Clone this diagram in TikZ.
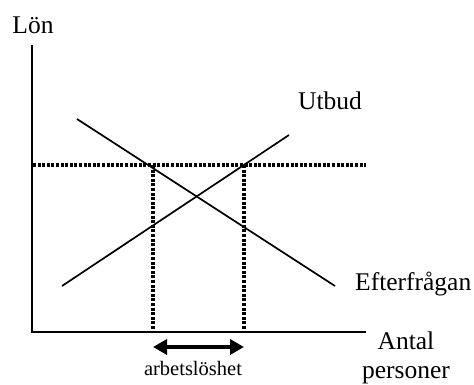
\documentclass[tikz,border=0pt]{standalone}
\usepackage{fontspec}
\setmainfont{Liberation Serif}
\usetikzlibrary{arrows.meta}
\begin{document}
\begin{tikzpicture}[x=1pt,y=-1pt,
  axis/.style={line width=1.8pt},
  curve/.style={line width=1.7pt},
  dots/.style={line width=3.2pt,dash pattern=on 3pt off 1.6pt},
  lbl/.style={inner sep=0pt,font=\fontsize{25.5}{28}\selectfont},
  small/.style={inner sep=0pt,font=\fontsize{20.5}{23}\selectfont}]
\useasboundingbox (0,0) rectangle (474,385);
% axes
\coordinate (O) at (32,332);
\coordinate (ytop) at (32,45);
\coordinate (xend) at (366,332);
\draw[axis] (ytop) -- (O) -- (xend);
% curves
\coordinate (d1) at (77,119);
\coordinate (d2) at (335,286);
\coordinate (s1) at (62,286);
\coordinate (s2) at (289,135);
\draw[curve] (d1) -- (d2);
\draw[curve] (s1) -- (s2);
% dotted lines
\coordinate (h1) at (33,165);
\coordinate (h2) at (366,165);
\coordinate (a1) at (153,165);
\coordinate (a2) at (153,332);
\coordinate (b1) at (244,165);
\coordinate (b2) at (244,332);
\draw[dots] (h1) -- (h2);
\draw[dots] (a1) -- (a2);
\draw[dots] (b1) -- (b2);
% arrow
\coordinate (l) at (153,347);
\coordinate (r) at (244,347);
\draw[line width=3.6pt,{Triangle[length=14pt,width=15pt]}-{Triangle[length=14pt,width=15pt]}] (l) -- (r);
% labels
\node[lbl,anchor=base] (lon) at (33,34) {Lön};
\node[lbl,anchor=base] (utbud) at (330,110) {Utbud};
\node[lbl,anchor=base west] (eft) at (355,290) {Efterfrågan};
\node[lbl,anchor=base] (antal) at (406,349) {Antal};
\node[lbl,anchor=base] (pers) at (406,378.5) {personer};
\node[small,anchor=base] (arb) at (193,375) {arbetslöshet};
\end{tikzpicture}
\end{document}
